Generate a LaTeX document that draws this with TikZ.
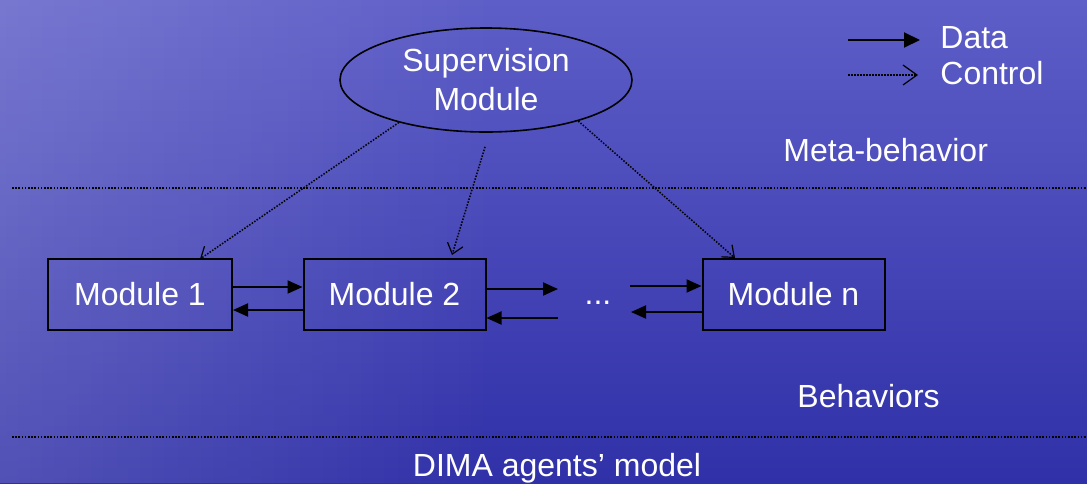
\documentclass[tikz,border=0pt]{standalone}
\usepackage{fontspec}
\setmainfont{Liberation Sans}
\usetikzlibrary{arrows.meta,shapes.geometric,fadings}

\definecolor{bgtop}{RGB}{94,94,200}
\definecolor{bgbot}{RGB}{48,48,168}

\tikzset{
  lbl/.style={text=white,font=\fontsize{16}{19.5}\selectfont,inner sep=0pt},
  modbox/.style={draw=black,line width=1pt,minimum width=91pt,minimum height=35.5pt,inner sep=0pt,
                 text=white,font=\fontsize{16}{19.5}\selectfont},
  data/.style={draw=black,line width=1pt,-{Triangle[length=7.5pt,width=6.5pt]}},
  ctrl/.style={draw=black,line width=0.75pt,dash pattern=on 0.75pt off 0.75pt,
               -{Straight Barb[length=5pt,width=8pt,line width=0.6pt]}},
  sep/.style={draw=black,line width=0.8pt,dash pattern=on 0.8pt off 0.8pt}
}

\begin{document}
\begin{tikzpicture}[x=0.5pt,y=-0.5pt]
% backdrop
\useasboundingbox (0,0) rectangle (1087,483);
\fill[top color=bgtop,bottom color=bgbot] (0,0) rectangle (1087,483);
\fill[white,opacity=0.16,path fading=east] (0,0) rectangle (500,483);

% supervision layer
\node[ellipse,draw=black,line width=0.8pt,minimum width=146pt,minimum height=52pt,inner sep=0pt,
      lbl,align=center] (sup) at (486,80) {Supervision\\Module};

% legend
\coordinate (ld0) at (848,40);
\coordinate (ld1) at (920,40);
\coordinate (lc0) at (848,75);
\coordinate (lc1) at (918,75);
\draw[data,-{Triangle[length=8pt,width=7.5pt]}] (ld0) -- (ld1);
\draw[ctrl,-{Straight Barb[length=7pt,width=10pt,line width=0.6pt]}] (lc0) -- (lc1);
\node[lbl,anchor=west] (ldata) at (940,38) {Data};
\node[lbl,anchor=west] (lctrl) at (940,73) {Control};

\node[lbl,anchor=west] (meta) at (783,150) {Meta-behavior};

% layer separators
\coordinate (s1a) at (12,188);
\coordinate (s1b) at (1087,188);
\coordinate (s2a) at (12,437);
\coordinate (s2b) at (1087,437);
\draw[sep] (s1a) -- (s1b);
\draw[sep] (s2a) -- (s2b);

% behaviour modules
\node[modbox,minimum width=92pt] (m1) at (140,294.5) {Module 1};
\node[modbox] (m2) at (394.5,294.5) {Module 2};
\node[modbox] (mn) at (793.5,294.5) {Module n};
\node[lbl,anchor=base] (dots) at (598,304) {...};

% data flow between modules
\draw[data] ([yshift=3.75pt]m1.east) -- ([yshift=3.75pt]m2.west);
\draw[data] ([yshift=-7.75pt]m2.west) -- ([yshift=-7.75pt]m1.east);
\coordinate (d1) at (558,289);
\coordinate (d2) at (558,318);
\coordinate (d3) at (630,286);
\coordinate (d4) at (631,312);
\draw[data] (m2.east |- d1) -- (d1);
\draw[data] (d2) -- (m2.east |- d2);
\draw[data] (d3) -- (mn.west |- d3);
\draw[data] (mn.west |- d4) -- (d4);

% control flow from the supervisor
\coordinate (t1) at (200,259);
\coordinate (t2) at (452,255);
\coordinate (t3) at (735,258);
\draw[ctrl] (sup.206) -- (t1);
\draw[ctrl] ([yshift=-7pt]sup.-91) -- (t2);
\draw[ctrl] (sup.-24) -- (t3);

\node[lbl,anchor=west] (beh) at (797,396) {Behaviors};
\node[lbl] (title) at (557,468) {DIMA agents’ model};
\end{tikzpicture}
\end{document}
